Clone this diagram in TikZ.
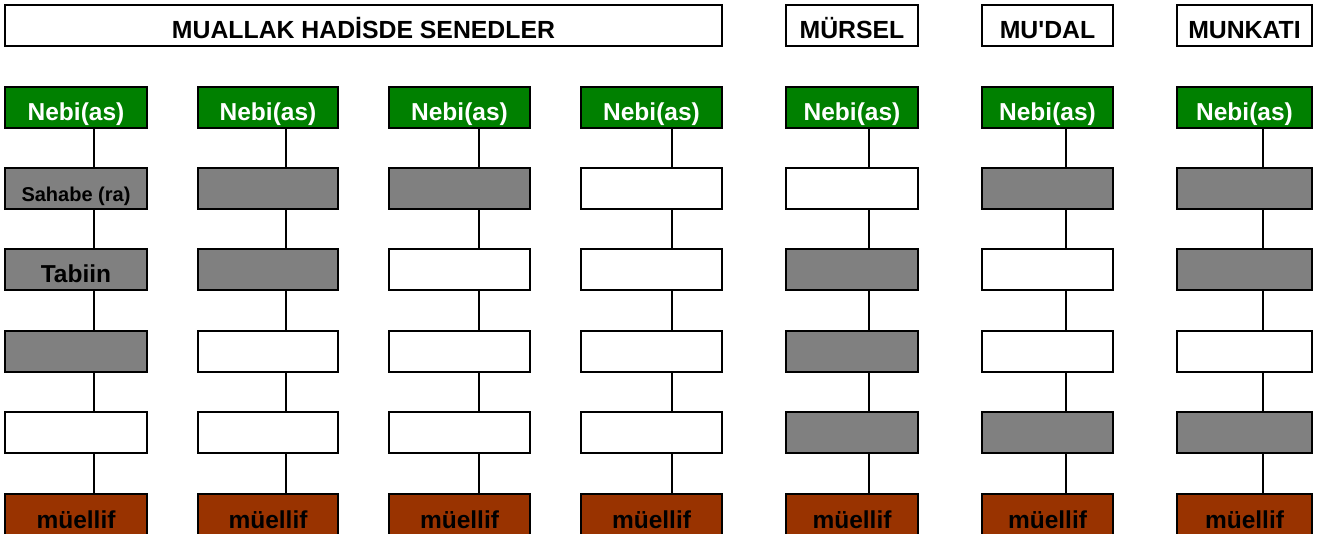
\documentclass[tikz,border=0pt]{standalone}
\usepackage{fontspec}
\setmainfont{Liberation Sans}
\definecolor{nebiyesil}{RGB}{0,128,0}
\definecolor{ravigri}{RGB}{128,128,128}
\definecolor{muellifkahve}{RGB}{153,51,0}

\begin{document}
\begin{tikzpicture}[x=1pt,y=1pt,
    kutu/.style={draw, line width=1.3pt, minimum height=41pt, inner sep=0pt,
        text height=27pt, text depth=0pt, font=\fontsize{24.5}{29}\selectfont\bfseries},
    nebi/.style={kutu, fill=nebiyesil, text=white},
    dolu/.style={kutu, fill=ravigri},
    bos/.style={kutu, fill=white},
    muellif/.style={kutu, fill=muellifkahve},
    baslik/.style={kutu, fill=white, font=\fontsize{24.8}{29}\selectfont\bfseries},
    bag/.style={line width=1.2pt}]
    \useasboundingbox (0,0) rectangle (1325,533);

    \node[baslik, minimum width=717pt] (bmuallak) at (363.5,507.5) {MUALLAK HADİSDE SENEDLER};
    \node[baslik, minimum width=132pt] (bmursel) at (852,507.5) {MÜRSEL};
    \node[baslik, minimum width=131pt] (bmudal) at (1047.5,507.5) {MU\textquotesingle DAL};
    \node[baslik, minimum width=135pt] (bmunkati) at (1244.5,507.5) {MUNKATI};

    \foreach \c/\x/\w/\o/\ra/\rb/\rc/\rd/\ta/\tb in {
        1/5/142/18/dolu/dolu/dolu/bos/{\fontsize{20}{24}\selectfont Sahabe (ra)}/Tabiin,
        2/198/140/18/dolu/dolu/bos/bos/{}/{},
        3/389/141/19.5/dolu/bos/bos/bos/{}/{},
        4/581/141/20.5/bos/bos/bos/bos/{}/{},
        5/786/132/17/bos/dolu/dolu/dolu/{}/{},
        6/982/131/18.5/dolu/bos/bos/dolu/{}/{},
        7/1177/135/18.5/dolu/dolu/bos/dolu/{}/{}} {
        \node[nebi, minimum width=\w pt] (n\c1) at ({\x+\w/2},425.5) {Nebi(as)};
        \node[\ra, minimum width=\w pt] (n\c2) at ({\x+\w/2},344.5) {\ta};
        \node[\rb, minimum width=\w pt] (n\c3) at ({\x+\w/2},263.5) {\tb};
        \node[\rc, minimum width=\w pt] (n\c4) at ({\x+\w/2},181.5) {};
        \node[\rd, minimum width=\w pt] (n\c5) at ({\x+\w/2},100.5) {};
        \node[muellif, minimum width=\w pt] (n\c6) at ({\x+\w/2},18.5) {müellif};
        \foreach \r [count=\s from 2] in {1,...,5}
            \draw[bag] ([xshift=\o pt]n\c\r.south) -- ([xshift=\o pt]n\c\s.north);
    }

\end{tikzpicture}
\end{document}
